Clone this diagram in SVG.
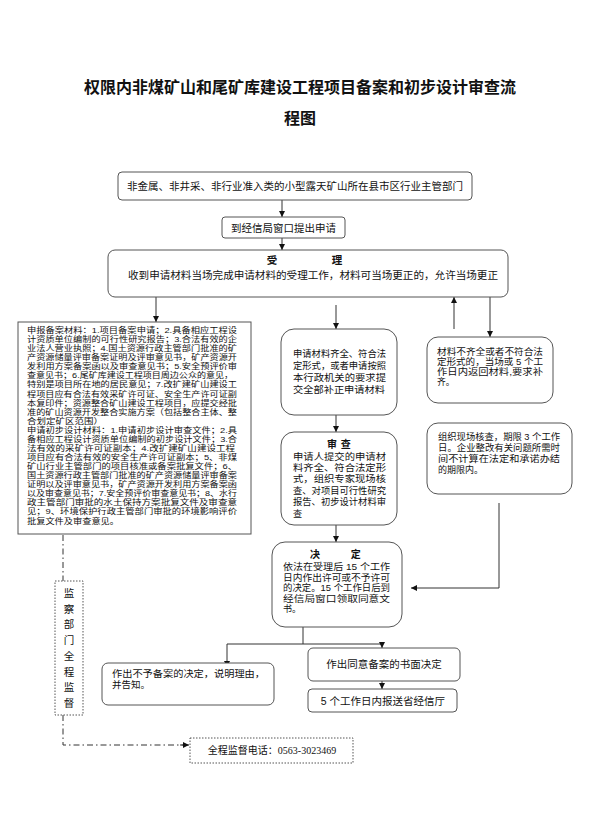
<svg xmlns="http://www.w3.org/2000/svg" width="600" height="836" viewBox="0 0 600 836">
<style>
text{font-family:"Liberation Sans","Noto Sans CJK SC",sans-serif;fill:#111;}
.title{font-size:16px;font-weight:bold;}
.t105{font-size:10.5px;}
.t10{font-size:10px;}
.t95{font-size:9.5px;}
.t92{font-size:9.2px;}
.t9{font-size:9px;}
.t88{font-size:8.8px;}
.t8{font-size:8px;}
.b{font-weight:bold;}
.box{fill:#fff;stroke:#555;stroke-width:1;}
.dot{fill:#fff;stroke:#555;stroke-width:1;stroke-dasharray:1.5 1.5;}
.ln{fill:none;stroke:#333;stroke-width:1;}
.dd{fill:none;stroke:#333;stroke-width:1;stroke-dasharray:6 3 1.5 3;}
.num{font-family:"Liberation Serif","Noto Sans CJK SC",serif;}
</style>
<defs>
<marker id="ah" viewBox="0 0 6 6" refX="6" refY="3" markerWidth="6" markerHeight="6" markerUnits="userSpaceOnUse" orient="auto">
<path d="M0,0 L6,3 L0,6 z" fill="#111"/>
</marker>
</defs>
<rect width="600" height="836" fill="#fff"/>
<g id="title">
<text class="title" text-anchor="middle"><tspan x="300" y="93">权限内非煤矿山和尾矿库建设工程项目备案和初步设计审查流</tspan><tspan x="300" y="124">程图</tspan></text>
</g>
<g id="connectors">
<line class="ln" x1="282" y1="200" x2="282" y2="217" marker-end="url(#ah)"/>
<line class="ln" x1="282" y1="238" x2="282" y2="250" marker-end="url(#ah)"/>
<line class="ln" x1="156" y1="297" x2="156" y2="322" marker-end="url(#ah)"/>
<line class="ln" x1="336" y1="305" x2="336" y2="329" marker-end="url(#ah)"/>
<line class="ln" x1="454" y1="329" x2="454" y2="297" marker-end="url(#ah)"/>
<line class="ln" x1="490" y1="297" x2="490" y2="337" marker-end="url(#ah)"/>
<line class="ln" x1="336" y1="415" x2="336" y2="432" marker-end="url(#ah)"/>
<line class="ln" x1="336" y1="525" x2="336" y2="542" marker-end="url(#ah)"/>
<polyline class="ln" points="499,503 499,588 411,588" marker-end="url(#ah)"/>
<polyline class="ln" points="303,627 303,644"/>
<polyline class="ln" points="227,644 382,644"/>
<line class="ln" x1="227" y1="644" x2="227" y2="667" marker-end="url(#ah)"/>
<line class="ln" x1="382" y1="644" x2="382" y2="648" marker-end="url(#ah)"/>
<line class="ln" x1="382" y1="681" x2="382" y2="689" marker-end="url(#ah)"/>
<line class="dd" x1="63" y1="535" x2="63" y2="581"/>
<polyline class="dd" points="63,715 63,745 184,745"/>
<line class="ln" x1="180" y1="745" x2="189" y2="745" marker-end="url(#ah)"/>
</g>
<g id="n1">
<rect class="box" x="118" y="172" width="354" height="28" rx="4"/>
<text class="t105" x="295" y="190" text-anchor="middle">非金属、非井采、非行业准入类的小型露天矿山所在县市区行业主管部门</text>
</g>
<g id="n2">
<rect class="box" x="222" y="217" width="123" height="21" rx="3"/>
<text class="t105" x="283.5" y="231.5" text-anchor="middle">到经信局窗口提出申请</text>
</g>
<g id="n3">
<rect class="box" x="108" y="250" width="400" height="47" rx="7"/>
<text class="t105"><tspan class="b" x="272" y="264" text-anchor="middle">受</tspan><tspan class="b" x="337" y="264" text-anchor="middle">理</tspan><tspan x="128" y="278.5" textLength="370" lengthAdjust="spacingAndGlyphs">收到申请材料当场完成申请材料的受理工作，材料可当场更正的，允许当场更正</tspan></text>
</g>
<g id="n4">
<rect class="box" x="18" y="322" width="233" height="212"/>
<text class="t8">
<tspan x="27" y="333" textLength="210" lengthAdjust="spacingAndGlyphs">申报备案材料：1.项目备案申请；2.具备相应工程设</tspan>
<tspan x="27" y="342.1" textLength="210" lengthAdjust="spacingAndGlyphs">计资质单位编制的可行性研究报告；3.合法有效的企</tspan>
<tspan x="27" y="351.1" textLength="210" lengthAdjust="spacingAndGlyphs">业法人营业执照；4.国土资源行政主管部门批准的矿</tspan>
<tspan x="27" y="360.2" textLength="210" lengthAdjust="spacingAndGlyphs">产资源储量评审备案证明及评审意见书，矿产资源开</tspan>
<tspan x="27" y="369.3" textLength="210" lengthAdjust="spacingAndGlyphs">发利用方案备案函以及审查意见书；5.安全预评价审</tspan>
<tspan x="27" y="378.4" textLength="206" lengthAdjust="spacingAndGlyphs">查意见书；6.尾矿库建设工程项目周边公众的意见，</tspan>
<tspan x="27" y="387.4" textLength="210" lengthAdjust="spacingAndGlyphs">特别是项目所在地的居民意见；7.改扩建矿山建设工</tspan>
<tspan x="27" y="396.5" textLength="210" lengthAdjust="spacingAndGlyphs">程项目应有合法有效采矿许可证、安全生产许可证副</tspan>
<tspan x="27" y="405.6" textLength="210" lengthAdjust="spacingAndGlyphs">本复印件；资源整合矿山建设工程项目，应提交经批</tspan>
<tspan x="27" y="414.6" textLength="210" lengthAdjust="spacingAndGlyphs">准的矿山资源开发整合实施方案（包括整合主体、整</tspan>
<tspan x="27" y="423.7" textLength="76" lengthAdjust="spacingAndGlyphs">合划定矿区范围）</tspan>
<tspan x="27" y="432.8" textLength="210" lengthAdjust="spacingAndGlyphs">申请初步设计材料：1.申请初步设计审查文件；2.具</tspan>
<tspan x="27" y="441.8" textLength="210" lengthAdjust="spacingAndGlyphs">备相应工程设计资质单位编制的初步设计文件；3.合</tspan>
<tspan x="27" y="450.9" textLength="208" lengthAdjust="spacingAndGlyphs">法有效的采矿许可证副本；4.改扩建矿山建设工程</tspan>
<tspan x="27" y="460" textLength="210" lengthAdjust="spacingAndGlyphs">项目应有合法有效的安全生产许可证副本；5、非煤</tspan>
<tspan x="27" y="469.1" textLength="210" lengthAdjust="spacingAndGlyphs">矿山行业主管部门的项目核准或备案批复文件；6、</tspan>
<tspan x="27" y="478.1" textLength="210" lengthAdjust="spacingAndGlyphs">国土资源行政主管部门批准的矿产资源储量评审备案</tspan>
<tspan x="27" y="487.2" textLength="210" lengthAdjust="spacingAndGlyphs">证明以及评审意见书，矿产资源开发利用方案备案函</tspan>
<tspan x="27" y="496.3" textLength="210" lengthAdjust="spacingAndGlyphs">以及审查意见书；7.安全预评价审查意见书；8、水行</tspan>
<tspan x="27" y="505.3" textLength="210" lengthAdjust="spacingAndGlyphs">政主管部门审批的水土保持方案批复文件及审查意</tspan>
<tspan x="27" y="514.4" textLength="210" lengthAdjust="spacingAndGlyphs">见；9、环境保护行政主管部门审批的环境影响评价</tspan>
<tspan x="27" y="523.5" textLength="92" lengthAdjust="spacingAndGlyphs">批复文件及审查意见。</tspan>
</text>
</g>
<g id="n5">
<rect class="box" x="281" y="329" width="116" height="86" rx="13"/>
<text class="t95">
<tspan x="293" y="357" textLength="93" lengthAdjust="spacingAndGlyphs">申请材料齐全、符合法</tspan>
<tspan x="293" y="369" textLength="93" lengthAdjust="spacingAndGlyphs">定形式，或者申请按照</tspan>
<tspan x="293" y="381" textLength="93" lengthAdjust="spacingAndGlyphs">本行政机关的要求提</tspan>
<tspan x="293" y="393" textLength="92" lengthAdjust="spacingAndGlyphs">交全部补正申请材料</tspan>
</text>
</g>
<g id="n6">
<rect class="box" x="281" y="432" width="116" height="93" rx="13"/>
<text class="t92">
<tspan class="b" x="332" y="448" text-anchor="middle" style="font-size:10px">审</tspan><tspan class="b" x="347" y="448" text-anchor="middle" style="font-size:10px">查</tspan>
<tspan x="293" y="459.5" textLength="93" lengthAdjust="spacingAndGlyphs">申请人提交的申请材</tspan>
<tspan x="293" y="470.9" textLength="93" lengthAdjust="spacingAndGlyphs">料齐全、符合法定形</tspan>
<tspan x="293" y="482.3" textLength="93" lengthAdjust="spacingAndGlyphs">式，组织专家现场核</tspan>
<tspan x="293" y="493.7" textLength="93" lengthAdjust="spacingAndGlyphs">查、对项目可行性研究</tspan>
<tspan x="293" y="505.1" textLength="93" lengthAdjust="spacingAndGlyphs">报告、初步设计材料审</tspan>
<tspan x="293" y="516.5">查</tspan>
</text>
</g>
<g id="n7">
<rect class="box" x="427" y="337" width="126" height="66" rx="11"/>
<text class="t88">
<tspan x="437" y="354.5" textLength="106" lengthAdjust="spacingAndGlyphs">材料不齐全或者不符合法</tspan>
<tspan x="437" y="364.8" textLength="106" lengthAdjust="spacingAndGlyphs">定形式的，当场或 5 个工</tspan>
<tspan x="437" y="375.1" textLength="106" lengthAdjust="spacingAndGlyphs">作日内返回材料,要求补</tspan>
<tspan x="437" y="385.4">齐。</tspan>
</text>
</g>
<g id="n8">
<rect class="box" x="427" y="423" width="145" height="71" rx="11"/>
<text class="t9">
<tspan x="438" y="440" textLength="122" lengthAdjust="spacingAndGlyphs">组织现场核查，期限 3 个工作</tspan>
<tspan x="438" y="451" textLength="122" lengthAdjust="spacingAndGlyphs">日。企业整改有关问题所需时</tspan>
<tspan x="438" y="462" textLength="122" lengthAdjust="spacingAndGlyphs">间不计算在法定和承诺办结</tspan>
<tspan x="438" y="473">的期限内。</tspan>
</text>
</g>
<g id="n9">
<rect class="box" x="272" y="542" width="130" height="85" rx="13"/>
<text class="t9">
<tspan class="b" x="315" y="558" text-anchor="middle" style="font-size:10px">决</tspan><tspan class="b" x="357" y="558" text-anchor="middle" style="font-size:10px">定</tspan>
<tspan x="283" y="570" textLength="107" lengthAdjust="spacingAndGlyphs">依法在受理后 15 个工作</tspan>
<tspan x="283" y="580.5" textLength="107" lengthAdjust="spacingAndGlyphs">日内作出许可或不予许可</tspan>
<tspan x="283" y="591" textLength="107" lengthAdjust="spacingAndGlyphs">的决定。15 个工作日后到</tspan>
<tspan x="283" y="601.5" textLength="107" lengthAdjust="spacingAndGlyphs">经信局窗口领取同意文</tspan>
<tspan x="283" y="612">书。</tspan>
</text>
</g>
<g id="n10">
<rect class="box" x="102" y="663" width="172" height="42" rx="6"/>
<text class="t95"><tspan x="112" y="677" textLength="153" lengthAdjust="spacingAndGlyphs">作出不予备案的决定，说明理由，</tspan><tspan x="112" y="688">并告知。</tspan></text>
</g>
<g id="n11">
<rect class="box" x="308" y="648" width="152" height="33" rx="5"/>
<text class="t105" x="384" y="667.5" text-anchor="middle">作出同意备案的书面决定</text>
</g>
<g id="n12">
<rect class="box" x="308" y="689" width="149" height="23" rx="4"/>
<text class="t105" x="383" y="704.5" text-anchor="middle">5 个工作日内报送省经信厅</text>
</g>
<g id="n13">
<rect class="dot" x="55" y="581" width="28" height="134"/>
<text class="t105" text-anchor="middle"><tspan x="69" y="597">监</tspan><tspan x="69" y="612.7">察</tspan><tspan x="69" y="628.4">部</tspan><tspan x="69" y="644.1">门</tspan><tspan x="69" y="659.8">全</tspan><tspan x="69" y="675.5">程</tspan><tspan x="69" y="691.2">监</tspan><tspan x="69" y="706.9">督</tspan></text>
</g>
<g id="n14">
<rect class="dot" x="190" y="738" width="163" height="25"/>
<text class="t10" x="272" y="754" text-anchor="middle">全程监督电话：<tspan class="num">0563-3023469</tspan></text>
</g>
</svg>
